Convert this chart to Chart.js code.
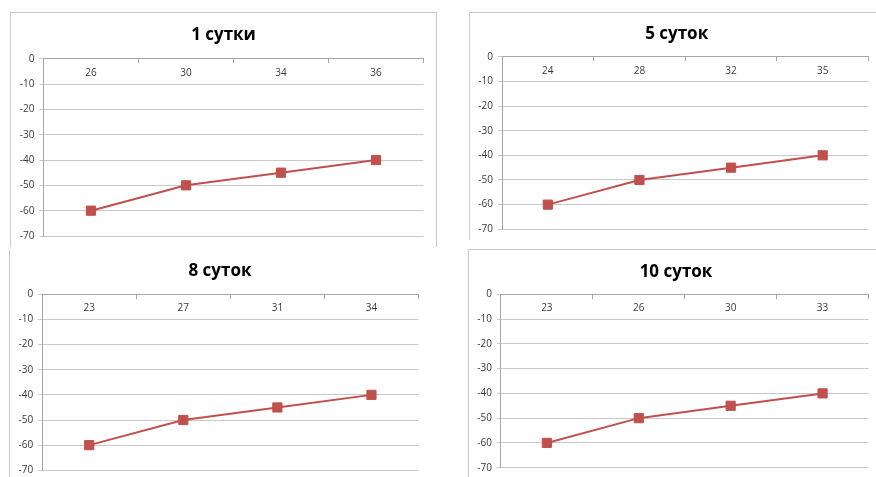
<!DOCTYPE html>
<html lang="ru">
<head>
<meta charset="utf-8">
<title>Графики по суткам</title>
<script src="https://cdn.jsdelivr.net/npm/chart.js@4/dist/chart.umd.min.js"></script>
<style>
  html, body { margin: 0; padding: 0; background: #fff; }
  body { width: 876px; height: 477px; position: relative; overflow: hidden; }
  .frame { position: absolute; box-sizing: border-box; border: 0 solid #c9c9c9; }
  canvas { position: absolute; }
  .title {
    position: absolute; width: 200px; height: 20px; line-height: 20px;
    text-align: center; color: #000;
    font: bold 17px 'Open Sans', 'Noto Sans', 'DejaVu Sans', sans-serif;
  }
</style>
</head>
<body>
<div class="frame" style="left:10px;top:12px;width:427px;height:235px;border-width:1px 1px 0 1px;"></div>
<div class="frame" style="left:469px;top:12px;width:420px;height:228px;border-width:1px 0 0 1px;"></div>
<div class="frame" style="left:9px;top:250px;width:1px;height:227px;border-width:0 0 0 1px;"></div>
<div class="frame" style="left:468px;top:249px;width:420px;height:240px;border-width:1px 0 0 1px;"></div>

<canvas id="c1" width="427" height="236" style="left:10px;top:12px;width:427px;height:236px;"></canvas>
<canvas id="c2" width="407" height="236" style="left:469px;top:12px;width:407px;height:236px;"></canvas>
<canvas id="c3" width="427" height="240" style="left:10px;top:252px;width:427px;height:240px;"></canvas>
<canvas id="c4" width="408" height="240" style="left:468px;top:250px;width:408px;height:240px;"></canvas>

<div class="title" id="t1" style="left:123.5px;top:22px;"></div>
<div class="title" id="t2" style="left:576.7px;top:21px;"></div>
<div class="title" id="t3" style="left:120px;top:258px;"></div>
<div class="title" id="t4" style="left:576px;top:259px;"></div>

<script>
// Temperature readings for each storage period
const titles = ['1 сутки', '5 суток', '8 суток', '10 суток'];
const labels1 = ['26', '30', '34', '36'];
const labels2 = ['24', '28', '32', '35'];
const labels3 = ['23', '27', '31', '34'];
const labels4 = ['23', '26', '30', '33'];
const values1 = [-60, -50, -45, -40];
const values2 = [-60, -50, -45, -40];
const values3 = [-60, -50, -45, -40];
const values4 = [-60, -50, -45, -40];
const yMin = -70;
const yMax = 0;
const yStep = 10;

const RED = '#c0504d';
const GRID = '#c9c9c9';
const AXIS = '#a6a6a6';
const TEXT = '#383838';
const FONT = "'Open Sans', 'Noto Sans', 'DejaVu Sans', sans-serif";

// g holds the plot-area edges in canvas coordinates
function makePanel(id, titleId, title, labels, values, g) {
  document.getElementById(titleId).textContent = title;

  new Chart(document.getElementById(id), {
    type: 'line',
    data: {
      labels: labels,
      datasets: [{
        data: values,
        borderColor: RED,
        backgroundColor: RED,
        borderWidth: 2,
        tension: 0,
        pointStyle: 'rect',
        pointRadius: 6.5,
        pointBackgroundColor: RED,
        pointBorderColor: RED,
        pointBorderWidth: 1,
        clip: false
      }]
    },
    options: {
      responsive: false,
      animation: false,
      devicePixelRatio: 1,
      layout: { padding: { left: 0, right: g.w - g.right, top: g.top, bottom: g.h - g.bottom } },
      plugins: {
        legend: { display: false },
        tooltip: { enabled: false },
        title: { display: false }
      },
      scales: {
        x: {
          position: { y: 0 },
          offset: true,
          grid: { offset: true, drawOnChartArea: false, tickLength: 4, color: AXIS },
          border: { color: AXIS },
          ticks: { color: TEXT, padding: 4, font: { family: FONT, size: 10 }, maxRotation: 0 }
        },
        y: {
          min: yMin,
          max: yMax,
          grid: { color: GRID, tickLength: 4 },
          border: { color: AXIS },
          ticks: { stepSize: yStep, color: TEXT, padding: 5, font: { family: FONT, size: 10 } },
          afterFit: (s) => { s.width = g.left; }
        }
      }
    }
  });
}

makePanel('c1', 't1', titles[0], labels1, values1, { w: 427, h: 236, left: 33.5, top: 46.7, right: 413.5, bottom: 224 });
makePanel('c2', 't2', titles[1], labels2, values2, { w: 407, h: 236, left: 33, top: 44.7, right: 403, bottom: 217.3 });
makePanel('c3', 't3', titles[2], labels3, values3, { w: 427, h: 240, left: 32.2, top: 42.3, right: 408.5, bottom: 218.3 });
makePanel('c4', 't4', titles[3], labels4, values4, { w: 408, h: 240, left: 32.9, top: 44.3, right: 404, bottom: 217.7 });
</script>
</body>
</html>
